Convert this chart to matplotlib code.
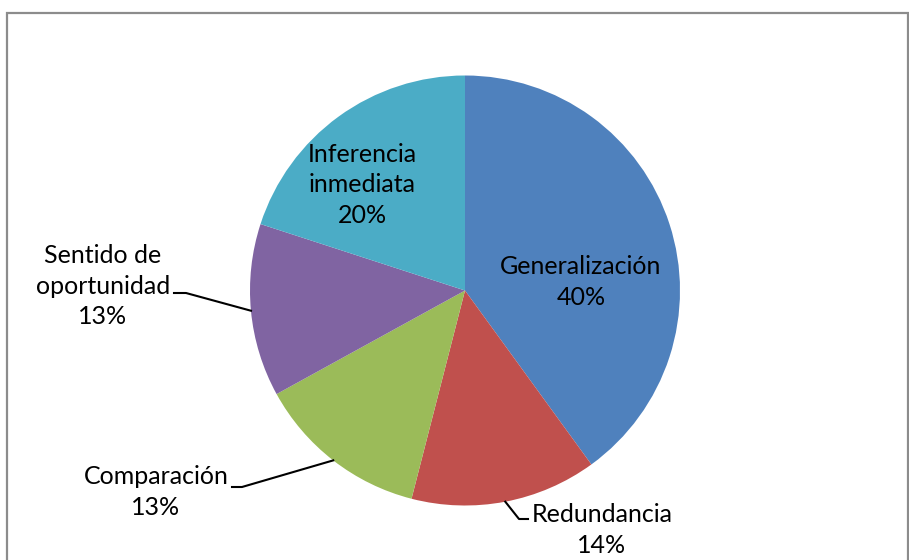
import numpy as np
import matplotlib.pyplot as plt
from matplotlib.patches import Rectangle

labels = ['Generalización', 'Redundancia', 'Comparación', 'Sentido de\noportunidad', 'Inferencia\ninmediata']
values = [40, 14, 13, 13, 20]
colors = ['#4F81BD', '#C0504D', '#9BBB59', '#8064A2', '#4BACC6']

plt.rcParams['font.family'] = ['Lato', 'DejaVu Sans']

W, H = 909, 560
fig = plt.figure(figsize=(W / 100, H / 100), dpi=100)

# chart border (bottom edge falls outside the picture)
fig.patches.append(Rectangle((7.5 / W, -0.05), (900.5) / W, 1.05 - 12.5 / H,
                             transform=fig.transFigure, fill=False,
                             edgecolor='#8c8c8c', linewidth=1.6))

cx, cy, r = 465, 290.5, 215
ax = fig.add_axes([(cx - r) / W, (H - cy - r) / H, 2 * r / W, 2 * r / H])
ax.axis('off')

wedges, _ = ax.pie(values, colors=colors, startangle=90, counterclock=False,
                   radius=1, wedgeprops=dict(linewidth=0))
ax.set_xlim(-1, 1)
ax.set_ylim(-1, 1)

def px(x, y):
    return (x - cx) / r, (cy - y) / r

# label centres (pixel positions)
pos = [(581, 282), (602, 530), (156, 492), (103, 286), (362, 185)]
fs = 18
for lab, v, (x, y) in zip(labels, values, pos):
    dx, dy = px(x, y)
    ax.text(dx, dy, f'{lab}\n{v}%', ha='center', va='center', fontsize=fs,
            linespacing=1.42, clip_on=False)

# leader lines for outside labels
def edge(i):
    w = wedges[i]
    a = np.deg2rad((w.theta1 + w.theta2) / 2)
    return np.cos(a), np.sin(a)

leaders = {
    1: [px(528, 519), px(519, 519)],
    2: [px(232, 487), px(242, 487)],
    3: [px(174, 293), px(186, 293)],
}
for i, pts in leaders.items():
    ex, ey = edge(i)
    xs = [p[0] for p in pts] + [ex]
    ys = [p[1] for p in pts] + [ey]
    ax.plot(xs, ys, color='black', linewidth=1.5, clip_on=False)

fig.savefig('out.png', dpi=100)
